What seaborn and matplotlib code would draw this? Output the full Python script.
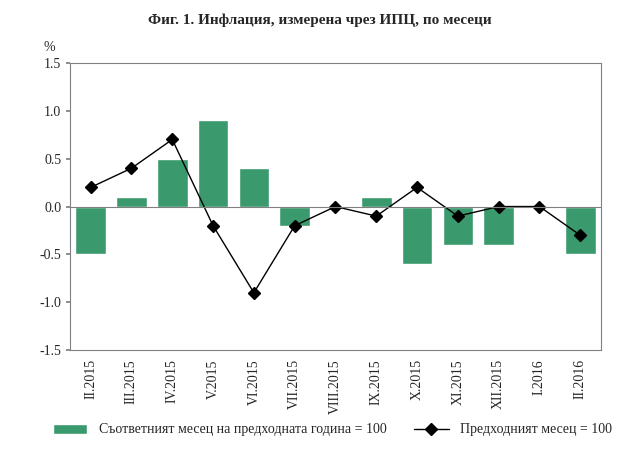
import numpy as np
import pandas as pd
import matplotlib
matplotlib.use("Agg")
import matplotlib.pyplot as plt
import seaborn as sns

months = ["II.2015", "III.2015", "IV.2015", "V.2015", "VI.2015", "VII.2015", "VIII.2015",
          "IX.2015", "X.2015", "XI.2015", "XII.2015", "I.2016", "II.2016"]
yoy = [-0.5, 0.1, 0.5, 0.9, 0.4, -0.2, 0.0, 0.1, -0.6, -0.4, -0.4, 0.0, -0.5]
mom = [0.2, 0.4, 0.7, -0.2, -0.9, -0.2, 0.0, -0.1, 0.2, -0.1, 0.0, 0.0, -0.3]

sns.set_theme(style="white")
plt.rcParams["font.family"] = ["Liberation Serif", "DejaVu Serif"]

fig = plt.figure(figsize=(6.39, 4.49), dpi=100)
ax = fig.add_axes([0.11, 0.22, 0.83, 0.64])

df = pd.DataFrame({"month": months, "yoy": yoy, "mom": mom})
sns.barplot(data=df, x="month", y="yoy", color="#3a9a6e", width=0.75, saturation=1, ax=ax)
bars = ax.patches[0]
line, = ax.plot(np.arange(len(months)), mom, color="black", marker="D", markersize=6, lw=1)

ax.set_ylim(-1.5, 1.5)
ax.set_yticks(np.arange(-1.5, 1.51, 0.5))
ax.set_yticklabels([f"{v:.1f}" for v in np.arange(-1.5, 1.51, 0.5)], fontsize=10)
ax.set_xlim(-0.5, len(months) - 0.5)
ax.set_xticks(np.arange(len(months)))
ax.set_xticklabels(months, rotation=90, fontsize=10)
ax.set_xlabel("")
ax.set_ylabel("")
ax.axhline(0, color="#808080", lw=0.8)
for s in ax.spines.values():
    s.set_color("#808080")
    s.set_linewidth(0.8)
ax.tick_params(axis="both", length=3, color="#808080", direction="out", bottom=False, left=True)
ax.text(-0.04, 1.04, "%", transform=ax.transAxes, fontsize=10, ha="center")

fig.suptitle("Фиг. 1. Инфлация, измерена чрез ИПЦ, по месеци", fontsize=11,
             fontweight="bold", y=0.97)
fig.legend([bars, line],
           ["Съответният месец на предходната година = 100", "Предходният месец = 100"],
           loc="lower center", ncol=2, frameon=False, fontsize=10,
           bbox_to_anchor=(0.52, 0.0), handlelength=2.5)
fig.savefig("out.png", dpi=100)
